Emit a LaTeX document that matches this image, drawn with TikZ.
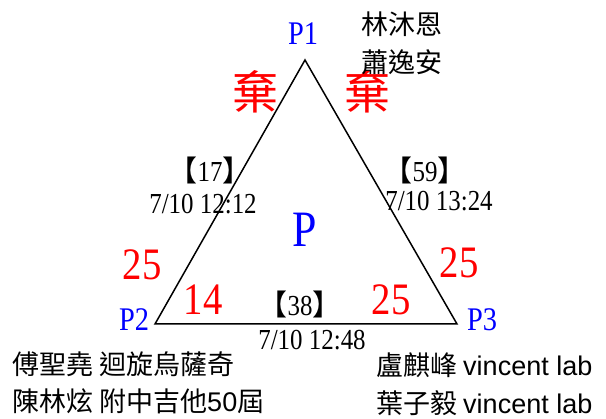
\documentclass[tikz,border=0pt]{standalone}
\usepackage{fontspec}
\setmainfont{Liberation Serif}
\newfontfamily\cjk{Noto Sans CJK TC}
\newfontfamily\nums[FakeStretch=0.86]{Liberation Serif}
\newfontfamily\lat{Liberation Sans}
\newcommand{\fs}[1]{\fontsize{#1}{#1}\selectfont}
\begin{document}
\begin{tikzpicture}[x=1pt,y=-1pt,
  lbl/.style={inner sep=0pt,anchor=center},
  vtx/.style={lbl,text=blue,font=\nums\fs{33}},
  bignum/.style={lbl,text=red,font=\nums\fs{45}},
  qi/.style={lbl,text=red,font=\cjk\fs{46}},
  stamp/.style={lbl,font=\nums\fs{29}},
  person/.style={inner sep=0pt,anchor=west,font=\cjk\fs{27}},
  tri/.style={line width=1.5pt,line join=miter}]
\useasboundingbox (0,0) rectangle (606,419);
\coordinate (A) at (305,60);
\coordinate (B) at (155,324);
\coordinate (C) at (457,324);
\draw[tri] (A) -- (B) -- (C) -- cycle;
\node[vtx] (p1) at (303,34) {P1};
\node[vtx] (p2) at (134,320) {P2};
\node[vtx] (p3) at (482,320) {P3};
\node[lbl,text=blue,font=\nums\fs{51}] (p) at (305,230) {P};
\node[qi] (q1) at (255,92) {棄};
\node[qi] (q2) at (367,92) {棄};
\node[bignum] (n1) at (142,265) {25};
\node[bignum] (n2) at (203,300) {14};
\node[bignum] (n3) at (391,300) {25};
\node[bignum] (n4) at (459,263) {25};
\node[stamp] (t1) at (210,170) {{\cjk\fs{29}【}17{\cjk\fs{29}】}};
\node[stamp] (d1) at (203,204) {7/10 12:12};
\node[stamp] (t2) at (425,170) {{\cjk\fs{29}【}59{\cjk\fs{29}】}};
\node[stamp] (d2) at (439,201) {7/10 13:24};
\node[stamp] (t3) at (300,304) {{\cjk\fs{29}【}38{\cjk\fs{29}】}};
\node[stamp] (d3) at (312,340) {7/10 12:48};
\node[person] (m1) at (361,24) {林沐恩};
\node[person] (m2) at (361,62) {蕭逸安};
\node[person] (m3) at (12,364) {傅聖堯 迴旋烏薩奇};
\node[person] (m4) at (12,401) {陳林炫 附中吉他{\lat 50}屆};
\node[person] (m5) at (376,365) {盧麒峰 {\lat vincent lab}};
\node[person] (m6) at (376,403) {葉子毅 {\lat vincent lab}};
\end{tikzpicture}
\end{document}
